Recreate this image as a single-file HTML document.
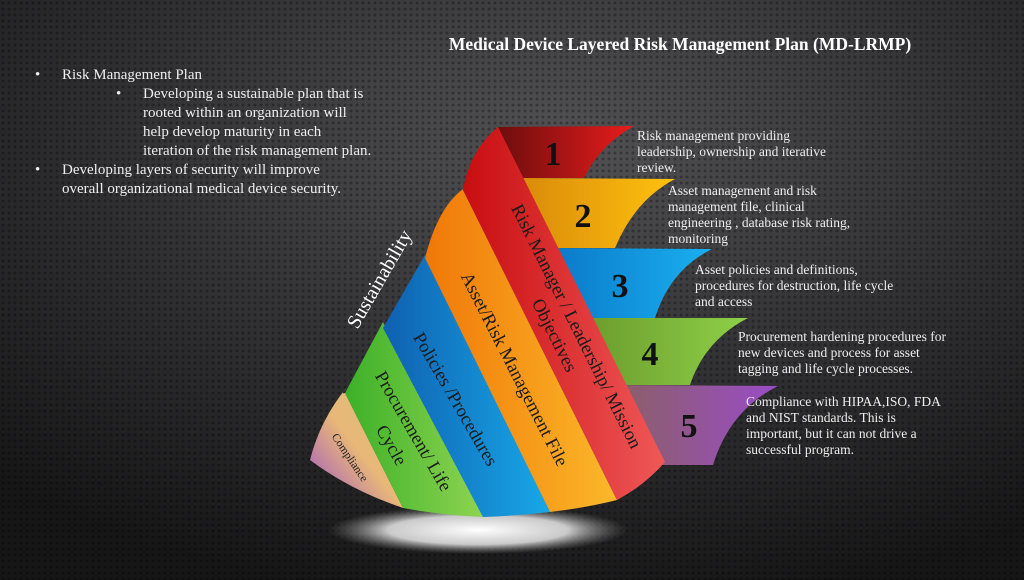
<!DOCTYPE html>
<html><head><meta charset="utf-8"><style>
html,body{margin:0;padding:0;}
body{width:1024px;height:580px;overflow:hidden;background:#222;}
svg{display:block;}
text{font-family:"Liberation Serif",serif;}
</style></head><body>
<svg width="1024" height="580" viewBox="0 0 1024 580" xmlns="http://www.w3.org/2000/svg">
<defs>
<radialGradient id="bg" cx="0.55" cy="0.25" r="0.8">
<stop offset="0" stop-color="#525254"/><stop offset="0.5" stop-color="#333335"/><stop offset="1" stop-color="#161617"/>
</radialGradient>
<pattern id="dots" width="6" height="6" patternUnits="userSpaceOnUse">
<circle cx="3" cy="3" r="1.5" fill="#000" fill-opacity="0.3"/>
</pattern>
<radialGradient id="glow" cx="0.5" cy="0.5" r="0.5">
<stop offset="0" stop-color="#fff"/><stop offset="0.6" stop-color="#ddd" stop-opacity="0.9"/><stop offset="1" stop-color="#888" stop-opacity="0"/>
</radialGradient>
<linearGradient id="f1" x1="0" x2="1"><stop offset="0" stop-color="#6e0d0d"/><stop offset="1" stop-color="#e81c1c"/></linearGradient>
<linearGradient id="f2" x1="0" x2="1"><stop offset="0" stop-color="#d98a0a"/><stop offset="1" stop-color="#ffc20e"/></linearGradient>
<linearGradient id="f3" x1="0" x2="1"><stop offset="0" stop-color="#0a78c8"/><stop offset="1" stop-color="#1ab0f0"/></linearGradient>
<linearGradient id="f4" x1="0" x2="1"><stop offset="0" stop-color="#6a9a2c"/><stop offset="1" stop-color="#8ed048"/></linearGradient>
<linearGradient id="f5" x1="0" x2="1"><stop offset="0" stop-color="#8a6060"/><stop offset="1" stop-color="#9a4cc8"/></linearGradient>
<linearGradient id="sr" x1="0" x2="1" y1="0" y2="0"><stop offset="0" stop-color="#c80d10"/><stop offset="1" stop-color="#f05858"/></linearGradient>
<linearGradient id="so" x1="0" x2="1"><stop offset="0" stop-color="#f07808"/><stop offset="1" stop-color="#fbb82a"/></linearGradient>
<linearGradient id="sb" x1="0" x2="1"><stop offset="0" stop-color="#0f60b0"/><stop offset="1" stop-color="#18a8e8"/></linearGradient>
<linearGradient id="sg" x1="0" x2="1"><stop offset="0" stop-color="#3cb028"/><stop offset="1" stop-color="#8ed450"/></linearGradient>
<linearGradient id="sc" x1="0" x2="1" y1="1" y2="0"><stop offset="0" stop-color="#9a50c8"/><stop offset="0.5" stop-color="#e8b878"/><stop offset="1" stop-color="#d8c078"/></linearGradient>
</defs>
<rect width="1024" height="580" fill="url(#bg)"/>
<rect width="1024" height="580" fill="url(#dots)"/>

<text x="680" y="50" fill="#fff" font-size="17.5" font-weight="bold" text-anchor="middle">Medical Device Layered Risk Management Plan (MD-LRMP)</text>

<g fill="#eee" font-size="15">
<text x="35" y="79">•</text><text x="62" y="79">Risk Management Plan</text>
<text x="116" y="98">•</text>
<text x="143" y="98">Developing a sustainable plan that is</text>
<text x="143" y="117">rooted within an organization will</text>
<text x="143" y="136">help develop maturity in each</text>
<text x="143" y="155">iteration of the risk management plan.</text>
<text x="35" y="174">•</text><text x="62" y="174">Developing layers of security will improve</text>
<text x="62" y="193">overall  organizational medical device security.</text>
</g>

<ellipse cx="478" cy="530" rx="150" ry="24" fill="url(#glow)"/>

<!-- flags -->
<path d="M498,127 L634,126 Q600,145 584,178 L520,178 Z" fill="url(#f1)"/>
<path d="M520,178 L675,179 Q635,200 615,248 L550,248 Z" fill="url(#f2)"/>
<path d="M550,248 L712,249 Q670,270 655,318 L580,318 Z" fill="url(#f3)"/>
<path d="M580,318 L748,318 Q705,340 690,385 L610,385 Z" fill="url(#f4)"/>
<path d="M610,385 L778,386 Q730,410 713,465 L640,465 Z" fill="url(#f5)"/>

<!-- strips -->
<path d="M347,387 Q340,395 345,393 L403,508 Q350,490 310,460 Q320,420 347,387 Z" fill="url(#sc)"/>
<path d="M383,322 L345,393 L403,508 Q440,515 483,517 Z" fill="url(#sg)"/>
<path d="M425,255 L383,328 L483,517 Q515,516 550,512 Z" fill="url(#sb)"/>
<path d="M470,185 Q440,200 425,258 L550,512 Q585,508 617,500 L463,190 Z" fill="url(#so)"/>
<path d="M498,127 Q470,150 463,190 L617,500 Q645,485 665,462 Z" fill="url(#sr)"/>

<!-- strip labels -->
<g fill="#1a1a1a">
<text transform="translate(575,327) rotate(63.5)" font-size="18.5" text-anchor="middle" dominant-baseline="middle">Risk Manager / Leadership/ Mission</text>
<text transform="translate(553,336) rotate(63.5)" font-size="18.5" text-anchor="middle" dominant-baseline="middle">Objectives</text>
<text transform="translate(513,370) rotate(63)" font-size="18.5" text-anchor="middle" dominant-baseline="middle">Asset/Risk Management File</text>
<text transform="translate(454,400) rotate(60)" font-size="18.5" text-anchor="middle" dominant-baseline="middle">Policies /Procedures</text>
<text transform="translate(412,432) rotate(60)" font-size="18.5" text-anchor="middle" dominant-baseline="middle">Procurement/ Life</text>
<text transform="translate(390,446) rotate(60)" font-size="18.5" text-anchor="middle" dominant-baseline="middle">Cycle</text>
<text transform="translate(349,458) rotate(56)" font-size="11.5" text-anchor="middle" dominant-baseline="middle">Compliance</text>
</g>
<text transform="translate(381,280) rotate(-60)" fill="#fff" font-size="20" text-anchor="middle" dominant-baseline="middle">Sustainability</text>

<g fill="#111" font-size="34" font-weight="bold" text-anchor="middle">
<text x="553" y="165">1</text>
<text x="583" y="227">2</text>
<text x="620" y="297">3</text>
<text x="650" y="365">4</text>
<text x="689" y="437">5</text>
</g>

<g fill="#eee" font-size="13.5">
<text x="637" y="140">Risk management providing</text>
<text x="637" y="156">leadership, ownership and iterative</text>
<text x="637" y="172">review.</text>
<text x="668" y="195">Asset management  and risk</text>
<text x="668" y="211">management file, clinical</text>
<text x="668" y="227">engineering , database risk rating,</text>
<text x="668" y="243">monitoring</text>
<text x="695" y="274">Asset policies and definitions,</text>
<text x="695" y="290">procedures for destruction,  life cycle</text>
<text x="695" y="306">and access</text>
<text x="738" y="341">Procurement hardening procedures for</text>
<text x="738" y="357">new devices and process for asset</text>
<text x="738" y="373">tagging and life cycle processes.</text>
<text x="746" y="406">Compliance with HIPAA,ISO, FDA</text>
<text x="746" y="422">and NIST standards.  This is</text>
<text x="746" y="438">important,  but it can not drive a</text>
<text x="746" y="454">successful program.</text>
</g>
</svg>
</body></html>
